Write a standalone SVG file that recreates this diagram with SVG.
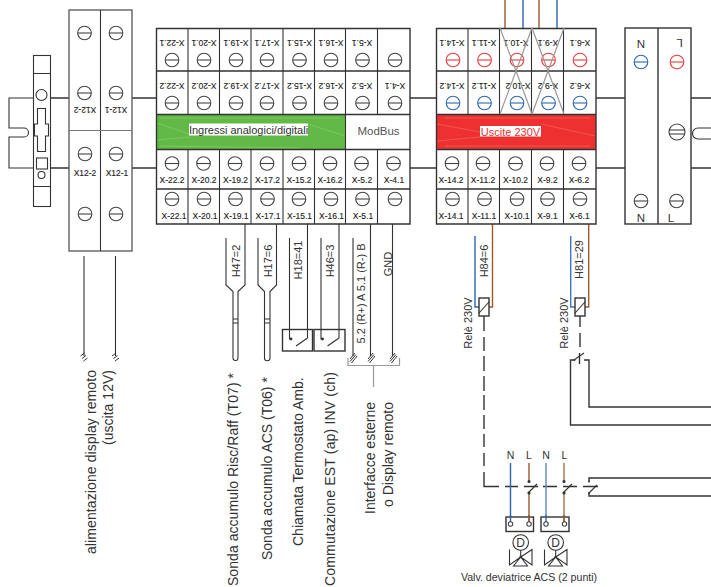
<svg xmlns="http://www.w3.org/2000/svg" width="711" height="587" viewBox="0 0 711 587">
<style>
text{font-family:"Liberation Sans",Arial,sans-serif;fill:#333}
.l{fill:none;stroke:#333;stroke-width:1.1}
.w{fill:none;stroke:#333;stroke-width:1.4}
.b{fill:none;stroke:#2f64b0;stroke-width:1.4}
.br{fill:none;stroke:#9c5a32;stroke-width:1.4}
.g{fill:none;stroke:#999;stroke-width:1.2}
.fl{fill:none;stroke:#fff;stroke-width:.6;opacity:.3}
.x{font-size:8.5px;text-anchor:middle;fill:#222;stroke:#222;stroke-width:.12}
.t{font-size:14px;text-anchor:start}
.s{font-size:11px;text-anchor:middle}
.n{font-size:10.5px;text-anchor:middle}
.sc{fill:#fff;stroke:#444;stroke-width:1.1}
.red{stroke:#ee3a3a}
.blue{stroke:#2f64b8}
</style>
<defs>
<g id="s"><circle r="6.8"/><path d="M-6.8 0H6.8"/></g>
<g id="sw" fill="none" stroke="#333" stroke-width="1.1"><path d="M0 0V9H2"/><path d="M18 0V8"/><circle cx="1.500" cy="9" r=".9" fill="#333"/><path d="M6.500 16L18 8"/></g>
<g id="h" fill="none" stroke="#333" stroke-width="1"><path d="M-4 -1L0 -4M-2.500 1.500L1.500 -1.500M-1 4L3 1"/></g>
<g id="h2" fill="none" stroke="#333" stroke-width="1"><path d="M-3 3L2 -3M-3 5.500L3 -1.500M-1.500 7L4 0"/></g>
<g id="ct" fill="none" stroke="#333" stroke-width="1.1"><circle cy="-5.500" r="1" fill="#333"/><circle cy="6" r="1" fill="#333"/><path d="M-1 6L8 -3"/></g>
</defs>

<g id="din-rail">
<path class="l" d="M33 98H9V128H24A4.500 4.500 0 0 1 24 137H9V168H33"/>
<rect class="l" x="33.500" y="55.500" width="17" height="151"/>
<path class="l" d="M33.500 73.500H50.500M33.500 186.500H50.500"/>
<circle class="l" cx="41.500" cy="95" r="5.500"/>
<path class="l" d="M37.500 108.500H45.500V124H48.500V136H45.500V151.500H37.500V136H34.500V124H37.500Z"/>
<rect class="l" x="36.500" y="158" width="11" height="11"/>
<circle class="l" cx="41.500" cy="175" r="3.500"/>
</g>

<g id="connectors">
<path class="w" d="M50 98H69M50 168H69M132 98H156M132 168H156M410 98H436M410 168H436M596 98H625M596 168H625M691 98H711M691 168H711"/>
<path class="l" d="M711 128H698A5.500 5.500 0 0 0 698 139H711"/>
<path class="br" d="M505 0V28M539 0V28"/><path class="b" d="M523 0V28M557 0V28"/>
<path class="l" d="M84 256V356M115.500 256V356" stroke-width="1.3"/>
<use href="#h" x="84.500" y="357"/><use href="#h" x="116" y="357"/>
<path class="l" d="M226 238V285L233 291.500V319M245 224V285L238 291.500V319M233 319H238V323H233ZM233 323V358A2.500 2.500 0 0 0 238 358V323"/>
<path class="l" d="M258 238V285L264.500 291.500V319M276.500 224V285L270 291.500V319M264.500 319H270V323H264.500ZM264.500 323V358A2.750 2.750 0 0 0 270 358V323"/>
<path class="l" d="M289.500 238V330M307.500 224V330M321 238V330M339 224V330"/>
<path class="l" d="M353 238V356M370.500 224V356M392.500 224V356"/>
<use href="#h2" x="353" y="356"/><use href="#h2" x="371" y="356"/><use href="#h2" x="393" y="356"/>
<path class="g" d="M348 358V365.500H399.500V358M373.500 365.500V387"/>
<path class="b" d="M475 236V307H479"/><path class="br" d="M489 307H492.500V224"/>
<path class="b" d="M570.700 236V307H575" style="stroke:#3f74c0"/><path class="br" d="M585 307H588.700V224"/>
<path class="w" d="M484 316V331M484 337V351M484 356V371M484 376V391M484 395V410M484 415V429M484 434V447M484 453V466M484 472V486.500H499"/>
<path class="w" d="M505 486.500H518M524 486.500H538M543 486.500H557M563 486.500H577M583 486.500H598"/>
<path class="w" d="M580 316V327M580 333V347M579.500 353V364"/>
<path class="w" d="M574 360H570.500V425H711"/><path class="w" d="M586 360H589V407H711"/>
<path class="l" d="M574 360L584 353"/><circle cx="574.500" cy="360" r="1" fill="#333"/><circle cx="585" cy="360" r="1" fill="#333"/>
<path class="b" d="M510.500 463V517"/><path class="br" d="M529 463V481M529 493V522"/>
<path class="b" d="M546 463V517" style="stroke:#5c86c4"/><path class="br" d="M564 463V481M564 493V522" style="stroke:#a9714a"/>
<use href="#ct" x="529" y="487"/><use href="#ct" x="564" y="487"/>
<path class="w" d="M589 481.500V478H711M589 493V496H711"/><path class="l" d="M589 493L597 485"/>
<circle cx="589" cy="481.500" r="1" fill="#333"/><circle cx="589" cy="493" r="1" fill="#333"/>
</g>

<g id="x12">
<rect x="69" y="10" width="63" height="241" fill="#fff" stroke="#555" stroke-width="1.3"/>
<path d="M100.500 10V251" class="l"/><path d="M69 130.500H132" class="l" style="stroke:#777"/>
<g class="sc"><use href="#s" x="84.500" y="33"/><use href="#s" x="116" y="33"/><use href="#s" x="84.500" y="93"/><use href="#s" x="116" y="93"/><use href="#s" x="85" y="154"/><use href="#s" x="116" y="154"/><use href="#s" x="85" y="214"/><use href="#s" x="116" y="214"/></g>
<text class="x" transform="translate(85 107) rotate(180)">X12-2</text>
<text class="x" transform="translate(116 107) rotate(180)">X12-1</text>
<text class="x" x="85" y="175.500">X12-2</text><text class="x" x="117" y="175.500">X12-1</text>
</g>

<g id="ingressi">
<rect x="156" y="115" width="189.500" height="34" fill="#62b946"/>
<path class="fl" d="M157 123L189 134M308 124L345 136M160 118H340M160 146L300 148M157 140L189 137"/>
<rect x="189" y="123.500" width="119" height="12" fill="#fff"/>
<text x="248.500" y="134" font-size="11" text-anchor="middle">Ingressi analogici/digitali</text>
<text x="378.500" y="134.500" font-size="11.500" text-anchor="middle" style="fill:#555">ModBus</text>
<path class="w" d="M156.500 28.500H410V224H156.500ZM156.500 71H410M156.500 114.500H410M156.500 149.500H410M156.500 189H410"/>
<path class="l" d="M188 28V115M188 149V224M219.500 28V115M219.500 149V224M251 28V115M251 149V224M283 28V115M283 149V224M314.500 28V115M314.500 149V224M345.500 28V224M377.500 28V115M377.500 149V224"/>
<g class="sc">
<use href="#s" x="172" y="60"/><use href="#s" x="204" y="60"/><use href="#s" x="236" y="60"/><use href="#s" x="267" y="60"/><use href="#s" x="299.500" y="60"/><use href="#s" x="331" y="60"/><use href="#s" x="362.500" y="60"/><use href="#s" x="395" y="60"/>
<use href="#s" x="172" y="103"/><use href="#s" x="204" y="103"/><use href="#s" x="236" y="103"/><use href="#s" x="267" y="103"/><use href="#s" x="299.500" y="103"/><use href="#s" x="331" y="103"/><use href="#s" x="362.500" y="103"/><use href="#s" x="395" y="103"/>
<use href="#s" x="172" y="163.500"/><use href="#s" x="203.500" y="163.500"/><use href="#s" x="235" y="163.500"/><use href="#s" x="267" y="163.500"/><use href="#s" x="299" y="163.500"/><use href="#s" x="330" y="163.500"/><use href="#s" x="361.500" y="163.500"/><use href="#s" x="393.500" y="163.500"/>
<use href="#s" x="172" y="199"/><use href="#s" x="204" y="199"/><use href="#s" x="235.500" y="199"/><use href="#s" x="267.500" y="199"/><use href="#s" x="299" y="199"/><use href="#s" x="331" y="199"/><use href="#s" x="362.500" y="199"/><use href="#s" x="395" y="199"/>
</g>
<text class="x" transform="translate(172 40) rotate(180)">X-22.1</text><text class="x" transform="translate(204 40) rotate(180)">X-20.1</text><text class="x" transform="translate(236 40) rotate(180)">X-19.1</text><text class="x" transform="translate(267 40) rotate(180)">X-17.1</text><text class="x" transform="translate(299.500 40) rotate(180)">X-15.1</text><text class="x" transform="translate(331 40) rotate(180)">X-16.1</text><text class="x" transform="translate(362 40) rotate(180)">X-5.1</text>
<text class="x" transform="translate(172 83) rotate(180)">X-22.2</text><text class="x" transform="translate(204 83) rotate(180)">X-20.2</text><text class="x" transform="translate(236 83) rotate(180)">X-19.2</text><text class="x" transform="translate(267 83) rotate(180)">X-17.2</text><text class="x" transform="translate(299.500 83) rotate(180)">X-15.2</text><text class="x" transform="translate(331 83) rotate(180)">X-16.2</text><text class="x" transform="translate(362 83) rotate(180)">X-5.2</text><text class="x" transform="translate(395 83) rotate(180)">X-4.1</text>
<text class="x" x="172" y="183">X-22.2</text><text class="x" x="204" y="183">X-20.2</text><text class="x" x="235.500" y="183">X-19.2</text><text class="x" x="267.500" y="183">X-17.2</text><text class="x" x="299" y="183">X-15.2</text><text class="x" x="330" y="183">X-16.2</text><text class="x" x="362" y="183">X-5.2</text><text class="x" x="394" y="183">X-4.1</text>
<text class="x" x="174" y="219">X-22.1</text><text class="x" x="205" y="219">X-20.1</text><text class="x" x="236" y="219">X-19.1</text><text class="x" x="268" y="219">X-17.1</text><text class="x" x="299.500" y="219">X-15.1</text><text class="x" x="331.500" y="219">X-16.1</text><text class="x" x="363" y="219">X-5.1</text>
</g>

<g id="uscite">
<rect x="436" y="115" width="160" height="34" fill="#ee3030"/>
<path class="fl" d="M437 124L480 132M541 124L595 136M445 118H590M445 146H590M437 141L480 137"/>
<rect x="480" y="126" width="61" height="10.500" fill="#fff"/>
<text x="510.500" y="135.500" font-size="11" text-anchor="middle" style="fill:#ee3030">Uscite 230V</text>
<path class="w" d="M436.500 28.500H596V224H436.500ZM436.500 71H596M436.500 114.500H596M436.500 149.500H596M436.500 189H596"/>
<path class="l" d="M468 28V115M468 149V224M499.500 28V115M499.500 149V224M531.500 28V115M531.500 149V224M563.500 28V115M563.500 149V224"/>
<g class="sc">
<g class="red"><use href="#s" x="453" y="60"/><use href="#s" x="484.500" y="60"/><use href="#s" x="517" y="60"/><use href="#s" x="548.500" y="60"/><use href="#s" x="580" y="60"/></g>
<g class="blue"><use href="#s" x="453" y="103"/><use href="#s" x="484.500" y="103"/><use href="#s" x="517" y="103"/><use href="#s" x="548.500" y="103"/><use href="#s" x="580" y="103"/></g>
<use href="#s" x="452" y="163.500"/><use href="#s" x="483" y="163.500"/><use href="#s" x="515.500" y="163.500"/><use href="#s" x="547" y="163.500"/><use href="#s" x="579" y="163.500"/>
<use href="#s" x="452.500" y="199"/><use href="#s" x="484.500" y="199"/><use href="#s" x="517" y="199"/><use href="#s" x="547.500" y="199"/><use href="#s" x="580" y="199"/>
</g>
<text class="x" transform="translate(452 40) rotate(180)">X-14.1</text><text class="x" transform="translate(484 40) rotate(180)">X-11.1</text><text class="x" transform="translate(516 40) rotate(180)">X-10.1</text><text class="x" transform="translate(548 40) rotate(180)">X-9.1</text><text class="x" transform="translate(580 40) rotate(180)">X-6.1</text>
<text class="x" transform="translate(452 83) rotate(180)">X-14.2</text><text class="x" transform="translate(484 83) rotate(180)">X-11.2</text><text class="x" transform="translate(518 83) rotate(180)">X-10.2</text><text class="x" transform="translate(548 83) rotate(180)">X-9.2</text><text class="x" transform="translate(580 83) rotate(180)">X-6.2</text>
<text class="x" x="451" y="183">X-14.2</text><text class="x" x="483" y="183">X-11.2</text><text class="x" x="515.500" y="183">X-10.2</text><text class="x" x="547.500" y="183">X-9.2</text><text class="x" x="579" y="183">X-6.2</text>
<text class="x" x="451" y="219">X-14.1</text><text class="x" x="484" y="219">X-11.1</text><text class="x" x="517" y="219">X-10.1</text><text class="x" x="547.500" y="219">X-9.1</text><text class="x" x="579.500" y="219">X-6.1</text>
<path d="M500 28L532 114M532 28L500 114M532 28L564 114M564 28L532 114" fill="none" stroke="#999" stroke-width="1.2"/>
</g>

<g id="n-l">
<rect class="w" x="625" y="28" width="66" height="196" fill="#fff"/>
<path class="w" d="M658 28V224"/>
<text x="641" y="48" font-size="11.500" text-anchor="middle">N</text>
<text font-size="11.500" text-anchor="middle" transform="translate(679.500 39) rotate(180)">L</text>
<g class="sc"><use href="#s" x="641" y="62" class="blue"/><use href="#s" x="677" y="62" class="red"/><use href="#s" x="641" y="201"/><use href="#s" x="676.500" y="201"/></g>
<circle class="sc" cx="677" cy="132" r="8"/><path class="l" d="M669 130H685M669 134H685"/>
<text x="641" y="221.500" font-size="11.500" text-anchor="middle">N</text>
<text x="671" y="221.500" font-size="11.500" text-anchor="middle">L</text>
</g>

<g id="sensors">
<text class="s" transform="translate(240 261) rotate(-90)">H47=2</text>
<text class="s" transform="translate(272 261) rotate(-90)">H17=6</text>
<text class="s" transform="translate(302 260) rotate(-90)">H18=41</text>
<text class="s" transform="translate(333.500 261) rotate(-90)">H46=3</text>
<text class="s" transform="translate(365 293.500) rotate(-90)">5.2 (R+) A 5.1 (R-) B</text>
<text class="s" transform="translate(392 264) rotate(-90)">GND</text>
<rect class="w" x="282.500" y="329.500" width="30" height="21.500"/>
<rect class="w" x="314" y="329.500" width="31" height="21.500"/>
<use href="#sw" x="289.500" y="330"/><use href="#sw" x="321" y="330"/>
</g>

<g id="labels">
<text class="t" transform="translate(96 554) rotate(-90)" textLength="184">alimentazione display remoto</text>
<text class="t" transform="translate(113 445) rotate(-90)" textLength="75">(uscita 12V)</text>
<text class="t" transform="translate(238 586) rotate(-90)" textLength="213">Sonda accumulo Risc/Raff (T07) *</text>
<text class="t" transform="translate(272 560) rotate(-90)">Sonda accumulo ACS (T06) *</text>
<text class="t" transform="translate(303 546) rotate(-90)">Chiamata Termostato Amb.</text>
<text class="t" transform="translate(335 586) rotate(-90)" textLength="214">Commutazione EST (ap) INV (ch)</text>
<text class="t" transform="translate(375 514) rotate(-90)">Interfacce esterne</text>
<text class="t" transform="translate(393 507) rotate(-90)">o Display remoto</text>
</g>

<g id="rele">
<rect class="w" x="479" y="298" width="10" height="18" fill="#fff"/><path class="l" d="M479 313L489 302"/>
<rect class="w" x="575" y="298" width="10" height="18" fill="#fff"/><path class="l" d="M575 313L585 302"/>
<text class="s" transform="translate(487.500 261) rotate(-90)">H84=6</text>
<text class="s" transform="translate(583 259.500) rotate(-90)">H81=29</text>
<text class="s" transform="translate(472 323) rotate(-90)">Relè 230V</text>
<text class="s" transform="translate(568 323) rotate(-90)">Relè 230V</text>
</g>

<g id="valves">
<text class="n" x="510.500" y="458.500">N</text><text class="n" x="529" y="458.500">L</text><text class="n" x="546" y="458.500">N</text><text class="n" x="564.500" y="458.500">L</text>
<rect class="w" x="506" y="517" width="27.500" height="14.500" fill="#fff"/>
<rect class="w" x="541" y="517" width="28" height="14.500" fill="#fff"/>
<path class="b" d="M510.500 515V522"/><path class="br" d="M529 515V522"/><path class="b" d="M546 515V522"/><path class="br" d="M564 515V522"/>
<circle class="sc" cx="510.500" cy="524" r="2.200"/><circle class="sc" cx="529" cy="524" r="2.200"/><circle class="sc" cx="546" cy="524" r="2.200"/><circle class="sc" cx="564.500" cy="524" r="2.200"/>
<circle class="l" cx="520.700" cy="542.500" r="7.800"/><circle class="l" cx="555.700" cy="542.500" r="7.800"/>
<text x="520.700" y="547" font-size="12" text-anchor="middle">D</text><text x="555.700" y="547" font-size="12" text-anchor="middle">D</text>
<path class="l" d="M520.700 550V557M509.500 549.500V565L520.700 557L532 549.500V565L520.700 557L527.500 566H513.500L520.700 557"/>
<path class="l" d="M555.700 550V557M544.500 549.500V565L555.700 557L567 549.500V565L555.700 557L562.500 566H548.500L555.700 557"/>
<circle cx="520.700" cy="557" r="1.300" fill="#333"/><circle cx="555.700" cy="557" r="1.300" fill="#333"/>
<text x="529" y="581" font-size="10.600" text-anchor="middle">Valv. deviatrice ACS (2 punti)</text>
</g>
</svg>
